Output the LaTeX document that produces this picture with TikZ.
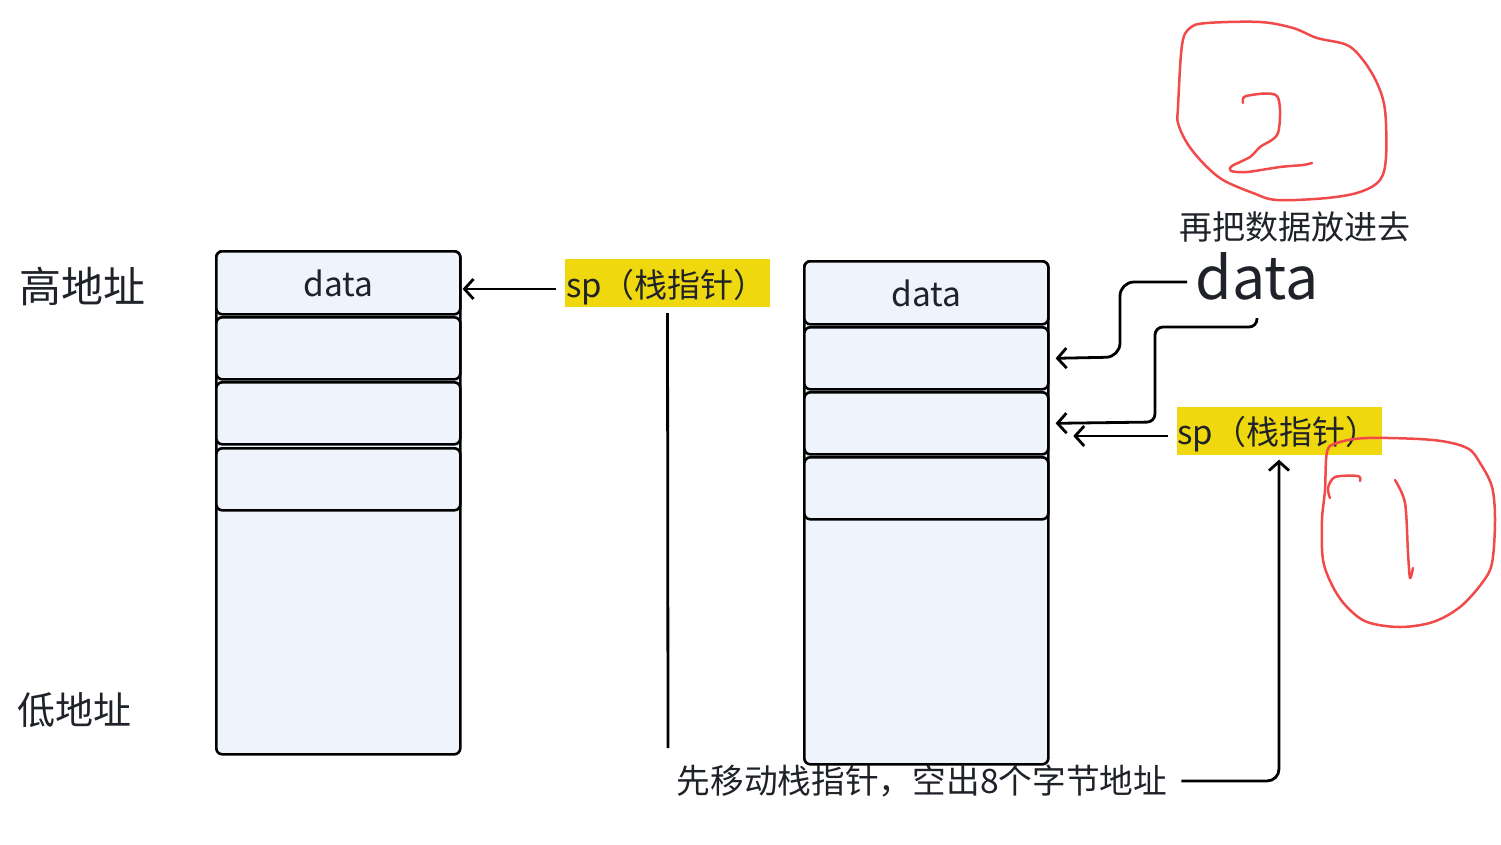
\documentclass[tikz,border=0pt]{standalone}
\usepackage{fontspec}
\setmainfont{Noto Sans CJK SC}
\usetikzlibrary{arrows.meta}
\definecolor{cellblue}{HTML}{EFF4FC}
\definecolor{spyellow}{HTML}{F0D80E}
\definecolor{inkdark}{HTML}{1F2329}
\definecolor{redink}{HTML}{F04A4A}
\tikzset{
  cellbox/.style={draw=black, line width=2.6pt, fill=cellblue, rounded corners=6pt,
    minimum width=244pt, anchor=north west, inner sep=0pt, text=inkdark,
    font=\fontsize{33.5pt}{40pt}\selectfont},
  spbox/.style={fill=spyellow, minimum height=48pt, text width=203pt, inner xsep=1pt,
    inner ysep=0pt, align=left, text=inkdark, font=\fontsize{33pt}{38pt}\selectfont},
  lbl/.style={text=inkdark, inner sep=0pt},
  conn/.style={draw=black, line width=2.8pt},
  arr/.style={conn, -{Straight Barb[length=9pt,width=20pt,line width=2.8pt]}},
  redstroke/.style={draw=redink, line width=2.5pt, line cap=round, line join=round}
}
\begin{document}
\begin{tikzpicture}[x=1pt,y=-1pt]
\useasboundingbox (0,0) rectangle (1501,844);
% left stack
\node[cellbox, minimum height=503pt] (Lbody) at (215,250) {};
\node[cellbox, minimum height=63pt, text depth=-2pt] (L0) at (215,250) {data};
\node[cellbox, minimum height=62pt] (L1) at (215,316) {};
\node[cellbox, minimum height=62pt] (L2) at (215,381) {};
\node[cellbox, minimum height=62pt] (L3) at (215,447) {};
% right stack
\node[cellbox, minimum height=503pt] (Rbody) at (803,260) {};
\node[cellbox, minimum height=63pt, text depth=-2pt] (R0) at (803,260) {data};
\node[cellbox, minimum height=62pt] (R1) at (803,326) {};
\node[cellbox, minimum height=62pt] (R2) at (803,391) {};
\node[cellbox, minimum height=62pt] (R3) at (803,456) {};
% labels
\node[lbl, anchor=west, font=\fontsize{42pt}{48pt}\selectfont] (high) at (19,286) {高地址};
\node[lbl, anchor=west, font=\fontsize{38pt}{44pt}\selectfont] (low) at (17,710) {低地址};
\node[spbox] (sp1) at (667.5,283) {\raisebox{-14pt}[0pt][0pt]{sp（栈指针）}};
\node[spbox] (sp2) at (1279,430.5) {\raisebox{-14pt}[0pt][0pt]{sp（栈指针）}};
\node[lbl, font=\fontsize{33pt}{40pt}\selectfont] (put) at (1295,227) {再把数据放进去};
\node[lbl, font=\fontsize{59pt}{66pt}\selectfont] (bigdata) at (1257,276) {data};
\node[lbl, font=\fontsize{33.7pt}{40pt}\selectfont] (move) at (922,781) {先移动栈指针，空出8个字节地址};
% connectors
\coordinate (sp1a) at ([yshift=-6pt]sp1.west);
\draw[arr, shorten <=9pt, shorten >=1pt] (sp1a) -- (sp1a -| L0.east);
\coordinate (vend) at (668,748);
\draw[conn, shorten <=6pt] (sp1.south) -- (vend);
\coordinate (d1) at (1187,282);
\draw[arr, rounded corners=14pt] (d1) -| (1120,357) -- ([xshift=6pt]R1.east);
\coordinate (d2) at (1257,318);
\draw[arr, rounded corners=8pt] (d2) -- (1257,327) -- (1155,327) -- (1155,422) -- ([xshift=6pt]R2.east);
\coordinate (sp2a) at ([yshift=-5.5pt]sp2.west);
\draw[arr, shorten <=8pt] (sp2a) -- ++(-103,0);
\draw[arr, rounded corners=12pt, shorten <=14pt, shorten >=5pt] (move.east) -| (sp2.south);
% red hand-drawn marks
\draw[redstroke] plot[smooth cycle, tension=0.55] coordinates {
 (1178,107) (1182,45) (1190,28) (1207,23) (1260,22) (1293,28) (1317,38) (1347,45) (1363,60)
 (1377,83) (1385,110) (1386,157) (1380,180) (1360,192) (1327,198) (1277,200)
 (1253,193) (1223,180) (1203,163) (1187,143) (1178,123)};
\draw[redstroke] plot[smooth, tension=0.5] coordinates {
 (1243,103) (1246,96) (1277,96) (1278,133) (1260,147) (1250,157) (1232,166)
 (1231,171) (1247,172) (1280,167) (1303,165) (1312,163)};
\draw[redstroke] plot[smooth cycle, tension=0.55] coordinates {
 (1327,452) (1337,443) (1367,438) (1433,440) (1467,448) (1480,463) (1492,487)
 (1495,520) (1492,563) (1482,583) (1460,607) (1433,622) (1400,627) (1367,622)
 (1347,607) (1333,587) (1323,560) (1322,520) (1325,490)};
\draw[redstroke] plot[smooth, tension=0.5] coordinates {
 (1330,498) (1328,488) (1335,477) (1358,476) (1360,481)};
\draw[redstroke] plot[smooth, tension=0.5] coordinates {
 (1395,480) (1405,503) (1408,553) (1410,578) (1413,568)};
\end{tikzpicture}
\end{document}
